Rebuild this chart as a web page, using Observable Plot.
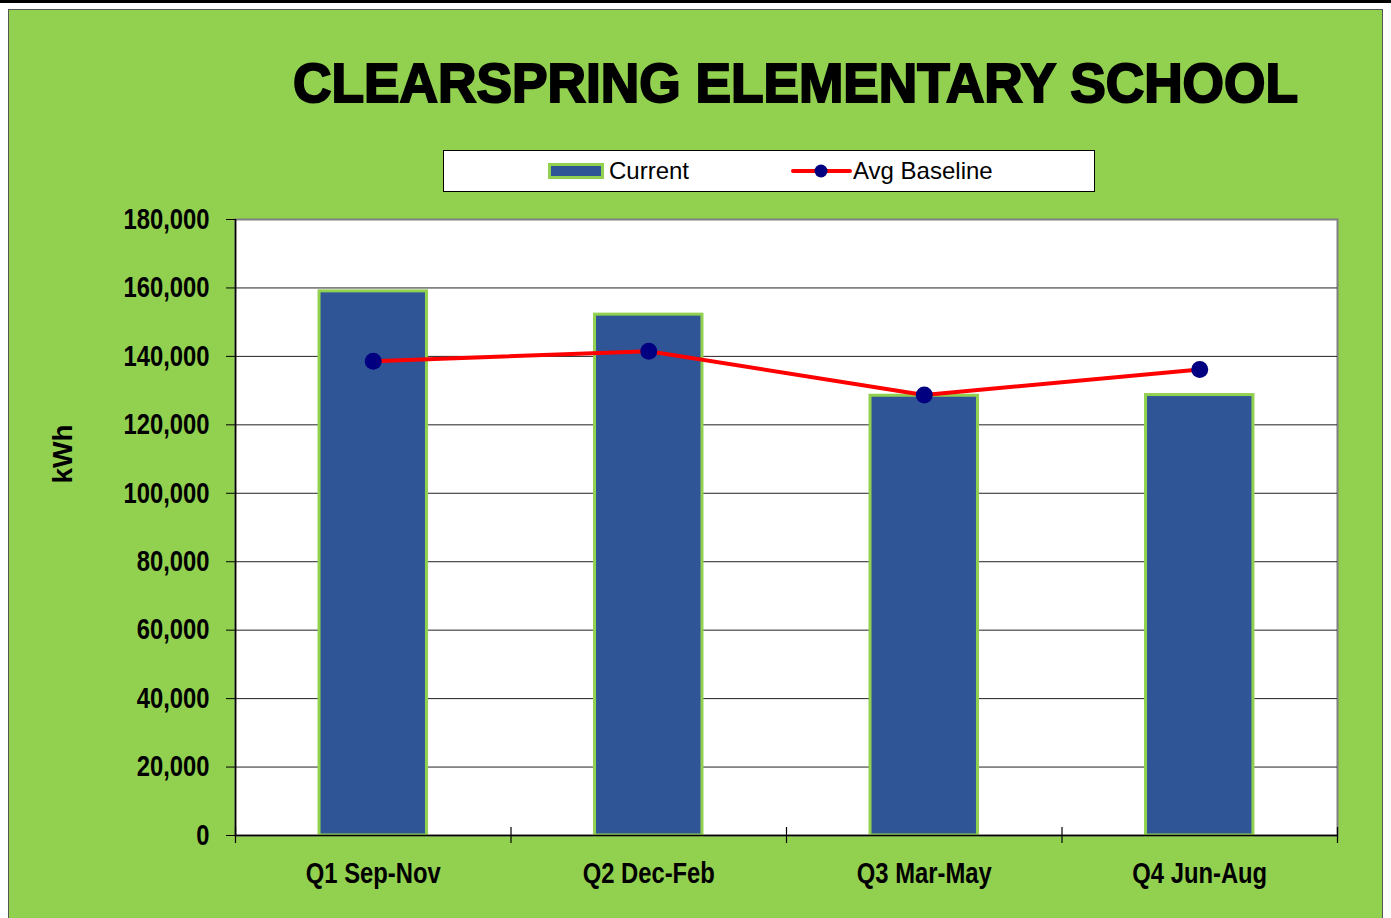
<!DOCTYPE html>
<html>
<head>
<meta charset="utf-8">
<script src="https://cdn.jsdelivr.net/npm/d3@7"></script>
<script src="https://cdn.jsdelivr.net/npm/@observablehq/plot@0.6"></script>
<style>
  html, body { margin: 0; padding: 0; background: #ffffff; }
  #wrap { position: relative; width: 1391px; height: 918px; overflow: hidden; background: #ffffff; font-family: "Liberation Sans", Arial, sans-serif; }
  #topbar { position: absolute; left: 0; top: 0; width: 1391px; height: 3px; background: #000; }
  #panel { position: absolute; left: 8px; top: 9px; width: 1373px; height: 930px; background: #92D050; border: 1px solid #555; }
  #chart { position: absolute; left: 0; top: 0; }
  #title { position: absolute; left: 0; top: 0; }
  #legend { position: absolute; left: 443px; top: 150px; width: 650px; height: 40px; background: #fff; border: 1px solid #000; }
  .sw1 { position: absolute; left: 548px; top: 163px; width: 50px; height: 10px; background: #2F5597; border: 3px solid #92D050; }
  .lg { position: absolute; font-size: 24px; color: #000; line-height: 24px; }
  #ylabel { position: absolute; left: 63px; top: 454px; transform: translate(-50%, -50%) rotate(-90deg); font-weight: bold; font-size: 28px; font-family: "Liberation Sans", Arial, sans-serif; }
</style>
</head>
<body>
<div id="wrap">
  <div id="topbar"></div>
  <div id="panel"></div>
  <div id="chart"></div>
  <svg id="title" width="1391" height="130">
    <text x="795.5" y="102" text-anchor="middle" font-family="Liberation Sans, Arial, sans-serif" font-weight="bold" font-size="55" textLength="1005" lengthAdjust="spacingAndGlyphs" fill="#000" stroke="#000" stroke-width="2">CLEARSPRING ELEMENTARY SCHOOL</text>
  </svg>
  <div id="legend"></div>
  <div class="sw1"></div>
  <div class="lg" style="left:609px; top:159px;">Current</div>
  <svg style="position:absolute; left:790px; top:160px;" width="64" height="22">
    <line x1="3" y1="11" x2="60" y2="11" stroke="#FF0000" stroke-width="4" stroke-linecap="round"/>
    <circle cx="31" cy="11" r="6.5" fill="#000080"/>
  </svg>
  <div class="lg" style="left:853px; top:159px;">Avg Baseline</div>
  <div id="ylabel">kWh</div>
</div>
<script>
const quarters = ["Q1 Sep-Nov", "Q2 Dec-Feb", "Q3 Mar-May", "Q4 Jun-Aug"];
const current = [159000, 152200, 128500, 128700];
const avgBaseline = [138600, 141500, 128700, 136200];
const yTicks = [0, 20000, 40000, 60000, 80000, 100000, 120000, 140000, 160000, 180000];

const rows = quarters.map((q, i) => ({q, i, current: current[i], baseline: avgBaseline[i]}));
const bounds = d3.range(quarters.length + 1);
const font = "'Liberation Sans', Arial, sans-serif";

const chart = Plot.plot({
  width: 1391,
  height: 918,
  marginLeft: 235,
  marginRight: 54,
  marginTop: 219,
  marginBottom: 83,
  style: {background: "transparent", overflow: "visible"},
  x: {type: "linear", domain: [0, quarters.length], axis: null},
  y: {type: "linear", domain: [0, 180000], axis: null},
  marks: [
    Plot.frame({fill: "white", stroke: "#808080", strokeWidth: 2}),
    Plot.ruleY(yTicks.filter(t => t > 0 && t < 180000), {stroke: "#222", strokeWidth: 1}),
    Plot.rectY(rows, {x1: d => d.i + 0.305, x2: d => d.i + 0.695, y1: 0, y2: "current", fill: "#2F5597", stroke: "#92D050", strokeWidth: 3}),
    Plot.ruleY([0], {stroke: "#000", strokeWidth: 1.5}),
    Plot.ruleX([0], {stroke: "#000", strokeWidth: 1.5}),
    Plot.ruleX(bounds, {y1: 0, y2: 0, insetTop: -8, insetBottom: -8, stroke: "#000", strokeWidth: 1.2}),
    Plot.line(rows, {x: d => d.i + 0.5, y: "baseline", stroke: "#FF0000", strokeWidth: 4}),
    Plot.dot(rows, {x: d => d.i + 0.5, y: "baseline", r: 8.5, fill: "#000080", stroke: "none"}),
    Plot.axisY({ticks: yTicks, tickSize: 9, tickPadding: 17, tickFormat: d3.format(","), fontSize: 29, fontWeight: "bold", fontFamily: font, fill: "#000", stroke: "#000", strokeWidth: 1}),
    Plot.axisX({ticks: rows.map(d => d.i + 0.5), tickSize: 0, tickPadding: 27, tickFormat: d => quarters[Math.floor(d)], fontSize: 29, fontWeight: "bold", fontFamily: font, fill: "#000"})
  ]
});
document.getElementById("chart").appendChild(chart);
// condense tick labels (reference uses a narrow bold face)
chart.querySelectorAll('g[aria-label="y-axis tick label"] text, g[aria-label="x-axis tick label"] text').forEach(t => {
  const w = t.getComputedTextLength();
  t.setAttribute("textLength", (w * 0.82).toFixed(1));
  t.setAttribute("lengthAdjust", "spacingAndGlyphs");
});
</script>
</body>
</html>
